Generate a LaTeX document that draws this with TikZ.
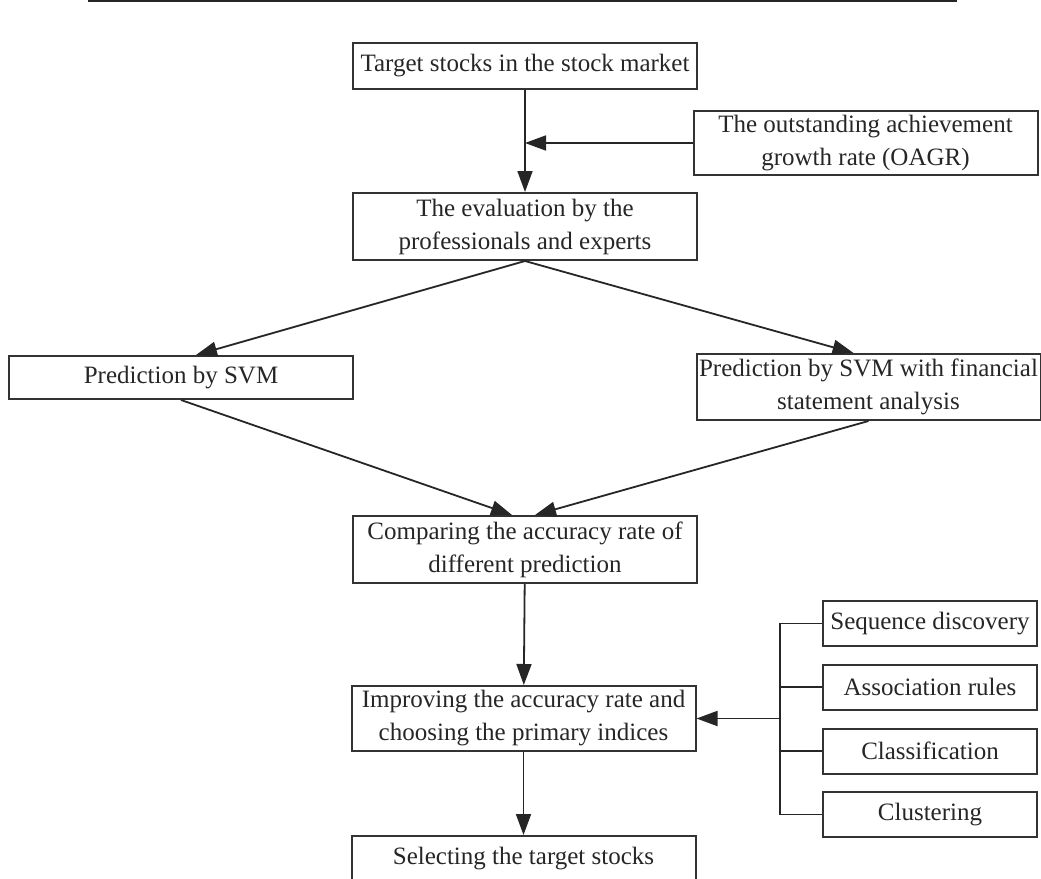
\documentclass[tikz,border=0pt]{standalone}
\usepackage{fontspec}
\setmainfont{Liberation Serif}
\usetikzlibrary{arrows.meta}

\begin{document}
\begin{tikzpicture}[x=1pt,y=-1pt,
    >={Triangle[length=21pt,width=15pt]},
    box/.style={draw=black!80,line width=2pt,align=center,inner sep=0pt,
      text=black!85,font=\fontsize{25}{33}\selectfont},
    wide/.style={box,minimum width=344pt},
    small/.style={box,minimum width=214pt,minimum height=45pt},
    link/.style={draw=black!85,line width=1.8pt}]
  \useasboundingbox (0,0) rectangle (1041,878);
  \draw[line width=2pt,black!85] (88,1) -- (957,1);

  \node[wide,minimum height=46pt] (target) at (525,66) {Target stocks in the stock market};
  \node[wide,minimum height=64pt] (oagr) at (865.5,143) {The outstanding achievement\\growth rate (OAGR)};
  \node[wide,minimum height=67pt] (eval) at (525,226.5) {The evaluation by the\\professionals and experts};
  \node[wide,minimum height=43pt] (svm) at (181,377.5) {Prediction by SVM};
  \node[wide,minimum height=66pt] (svmfsa) at (868.5,387) {Prediction by SVM with financial\\statement analysis};
  \node[wide,minimum height=67pt] (compare) at (525,549.5) {Comparing the accuracy rate of\\different prediction};
  \node[wide,minimum height=65pt] (improve) at (523.5,718.5) {Improving the accuracy rate and\\choosing the primary indices};
  \node[wide,minimum height=45pt] (select) at (523.5,858.5) {Selecting the target stocks};

  \node[small] (seq) at (930,623.5) {Sequence discovery};
  \node[small] (assoc) at (930,687) {Association rules};
  \node[small] (classif) at (930,751) {Classification};
  \node[small] (clust) at (930,814.5) {Clustering};
  \coordinate (bus) at (780,718.5);

  \draw[link,->] (target) -- (eval);
  \draw[link,->] (oagr.west) -- (oagr.west -| target.south);
  \draw[link,->] (eval.south) -- ([xshift=15pt]svm.north);
  \draw[link,->] (eval.south) -- ([xshift=-15pt]svmfsa.north);
  \draw[link,->] (svm.south) -- ([xshift=-13pt]compare.north);
  \draw[link,->] (svmfsa.south) -- ([xshift=10pt]compare.north);
  \draw[link,->] (compare) -- (improve);
  \draw[link,->] (improve) -- (select);

  % data mining methods
  \draw[link] (seq.west) -| (bus) |- (clust.west);
  \draw[link] (assoc.west) -| (bus);
  \draw[link] (classif.west) -| (bus);
  \draw[link,->] (bus) -- (improve.east);
\end{tikzpicture}
\end{document}
